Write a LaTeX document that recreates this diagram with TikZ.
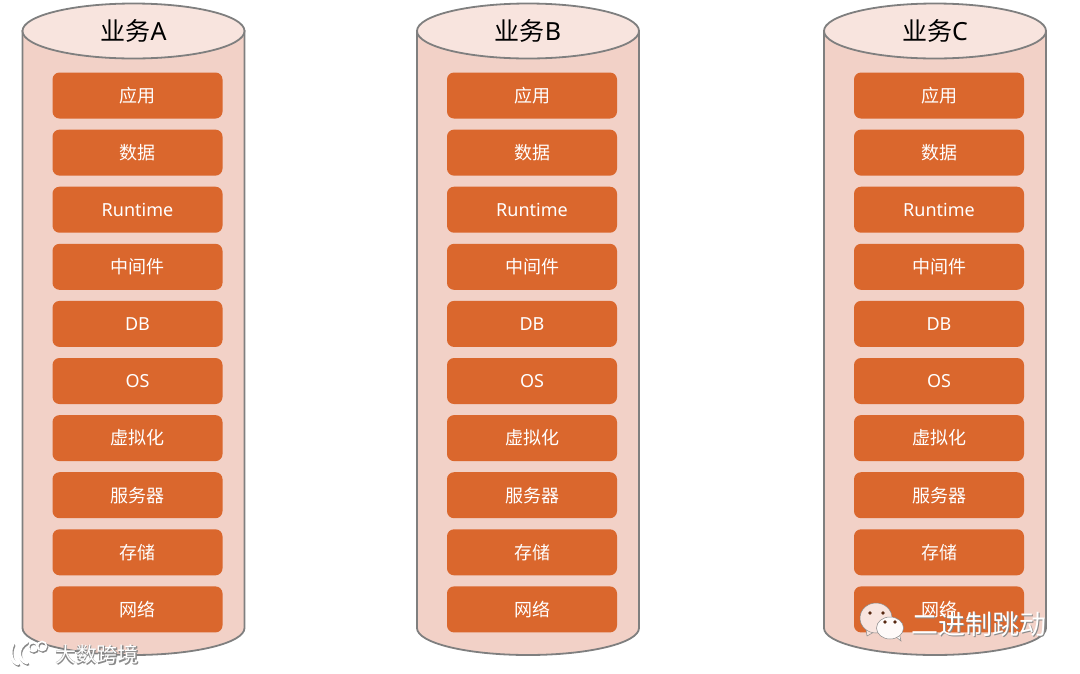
\documentclass[tikz,border=0pt]{standalone}
\usepackage{fontspec}
\setmainfont{Noto Sans}
\newfontfamily\cjk{Noto Sans CJK SC}
\usetikzlibrary{positioning}

\definecolor{tubeside}{HTML}{F2D1C7}
\definecolor{tubetop}{HTML}{F8E4DE}
\definecolor{tubeline}{HTML}{7F7F7F}
\definecolor{layerfill}{HTML}{DA672D}
\definecolor{markshade}{HTML}{8A8A8A}

\tikzset{
    layer/.style={fill=layerfill, rounded corners=7pt, minimum width=170pt, minimum height=46pt, inner sep=0pt, text=white, font=\fontsize{18}{20}\selectfont},
    tube/.style={draw=tubeline, line width=1.8pt},
    marktext/.style={inner sep=0pt, text=white},
    shadetext/.style={inner sep=0pt, text=markshade}
}

\begin{document}
\begin{tikzpicture}[x=1pt, y=-1pt]
    \useasboundingbox (0,0) rectangle (1080,673);

    % Ba khối nghiệp vụ
    \foreach \cx/\biz in {133.5/A, 528/B, 935/C} {
        \draw[tube, fill=tubeside] (\cx-111,31) -- (\cx-111,628) arc[start angle=180, end angle=0, x radius=111, y radius=27] -- (\cx+111,31) -- cycle;
        \draw[tube, fill=tubetop] (\cx,31) ellipse[x radius=111, y radius=27.5];
        \node[inner sep=0pt, font=\fontsize{25}{30}\selectfont] (title\biz) at (\cx,31) {{\cjk 业务}\biz};
        % Các tầng
        \foreach \lbl [count=\i from 0] in {{\cjk 应用}, {\cjk 数据}, Runtime, {\cjk 中间件}, DB, OS, {\cjk 虚拟化}, {\cjk 服务器}, {\cjk 存储}, {\cjk 网络}} {
            \node[layer] (layer\biz\i) at (\cx+4,95.5+57.1*\i) {\lbl};
        }
    }

    % Dấu mờ bên trái
    \foreach \dx/\dy/\col in {1/1.5/markshade, 0/0/white} {
        \begin{scope}[shift={(\dx,\dy)}]
            \draw[\col, line width=3pt, line cap=round] (13,644) .. controls (9,652) and (11,662) .. (18,664);
            \draw[\col, line width=3pt, line cap=round] (27,642) .. controls (17,647) and (17,660) .. (27,663);
            \draw[\col, line width=1.6pt] (33,647) circle[radius=4.5];
            \draw[\col, line width=1.6pt] (42,646) circle[radius=4.5];
        \end{scope}
    }
    \node[shadetext, font=\cjk\bfseries\fontsize{21}{24}\selectfont] (markleftshade) at (98,655.5) {大数跨境};
    \node[marktext, font=\cjk\fontsize{21}{24}\selectfont] (markleft) at (97,654) {大数跨境};

    % Dấu mờ bên phải
    \fill[tubetop, draw=markshade, line width=0.5pt] (866,630) -- (867,636) -- (874,632) -- cycle;
    \fill[tubetop, draw=markshade, line width=0.5pt] (876,618) ellipse[x radius=16, y radius=15];
    \fill[white!90!tubeside, draw=markshade, line width=0.5pt] (895,636) -- (901,641) -- (899,632) -- cycle;
    \fill[white!90!tubeside, draw=markshade, line width=0.5pt] (890,628) ellipse[x radius=13.5, y radius=11];
    \foreach \ex/\ey in {870/613, 883/613, 885/622, 895/622} {
        \fill[black!60!layerfill] (\ex,\ey) circle[radius=1.9];
    }
    \node[shadetext, font=\cjk\fontsize{27}{30}\selectfont] (markrightshade) at (979.5,625.5) {二进制跳动};
    \node[marktext, font=\cjk\fontsize{27}{30}\selectfont] (markright) at (978.5,624) {二进制跳动};
\end{tikzpicture}
\end{document}
